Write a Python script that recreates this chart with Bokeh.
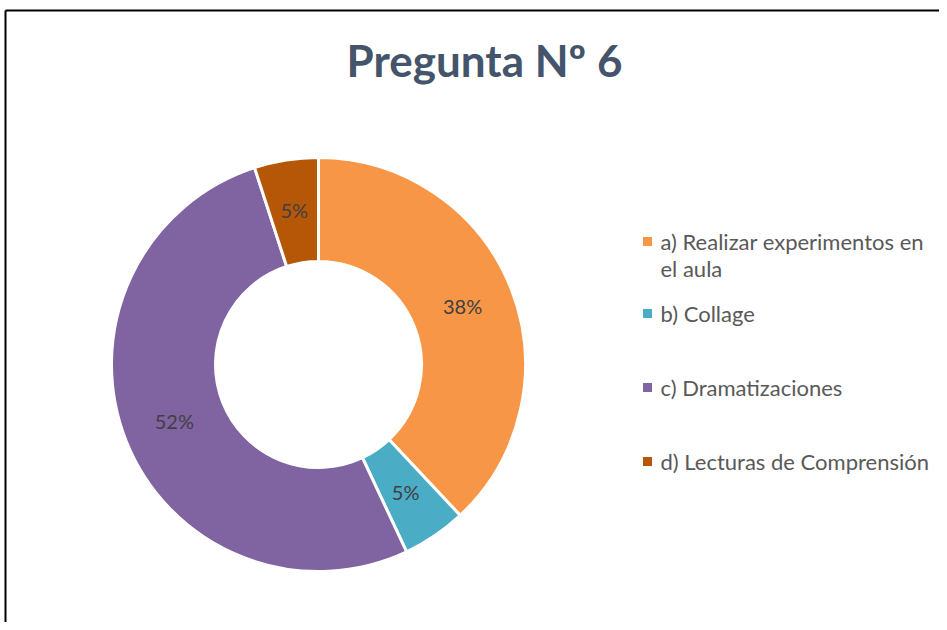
import numpy as np
from bokeh.plotting import figure
from bokeh.models import Range1d, ColumnDataSource
from bokeh.core.properties import value
from bokeh.embed import file_html
from bokeh.resources import INLINE

# ---- data ----
title_text = "Pregunta Nº 6"
categories = ["a) Realizar experimentos en\nel aula", "b) Collage", "c) Dramatizaciones", "d) Lecturas de Comprensión"]
percents = [38, 5, 52, 5]
colors = ["#F79646", "#4BACC6", "#8064A2", "#B65708"]

# ---- layout ----
W, H = 939, 622
FONT = "Lato"
cx, cy = 318, H - 364
r_out, r_in = 207, 103

p = figure(width=W, height=H, output_backend="svg", toolbar_location=None,
           x_range=Range1d(0, W), y_range=Range1d(0, H), min_border=0)
p.axis.visible = False
p.grid.visible = False
p.outline_line_color = None
p.background_fill_color = "white"
p.border_fill_color = "white"

# chart frame (left and top edges visible)
p.segment(x0=[5, 5], y0=[0, H - 10], x1=[5, W], y1=[H - 10, H - 10], line_color="black", line_width=2)

vals = np.array(percents, dtype=float)
frac = vals / vals.sum()
cum = np.concatenate([[0], np.cumsum(frac)])
start = np.pi / 2 - 2 * np.pi * cum[1:]
end = np.pi / 2 - 2 * np.pi * cum[:-1]
mid = (start + end) / 2

src = ColumnDataSource(dict(start=start, end=end, color=colors))
p.annular_wedge(x=cx, y=cy, inner_radius=r_in, outer_radius=r_out,
                start_angle="start", end_angle="end", direction="anticlock",
                fill_color="color", line_color="white", line_width=3, source=src)

r_lab = (r_in + r_out) / 2
labels = [f"{v}%" for v in percents]
p.text(x=cx + r_lab * np.cos(mid), y=cy + r_lab * np.sin(mid) + 1, text=labels,
       text_align="center", text_baseline="middle", text_font=value(FONT),
       text_font_size="20px", text_color="#404040")

# title
p.text(x=[484], y=[H - 59], text=[title_text], text_align="center", text_baseline="middle",
       text_font=value(FONT), text_font_style="bold", text_font_size="44px", text_color="#44546A")

# legend
leg_y = [H - 241, H - 313, H - 387, H - 461]
p.scatter(x=[647] * 4, y=leg_y, marker="square", size=9, fill_color=colors, line_color=None)
line_h = 27
for lab, y in zip(categories, leg_y):
    for k, part in enumerate(lab.split("\n")):
        p.text(x=[660], y=[y - k * line_h], text=[part], text_align="left", text_baseline="middle",
               text_font=value(FONT), text_font_size="22px", text_color="#595959")

open("out.html", "w").write(file_html(p, INLINE))
